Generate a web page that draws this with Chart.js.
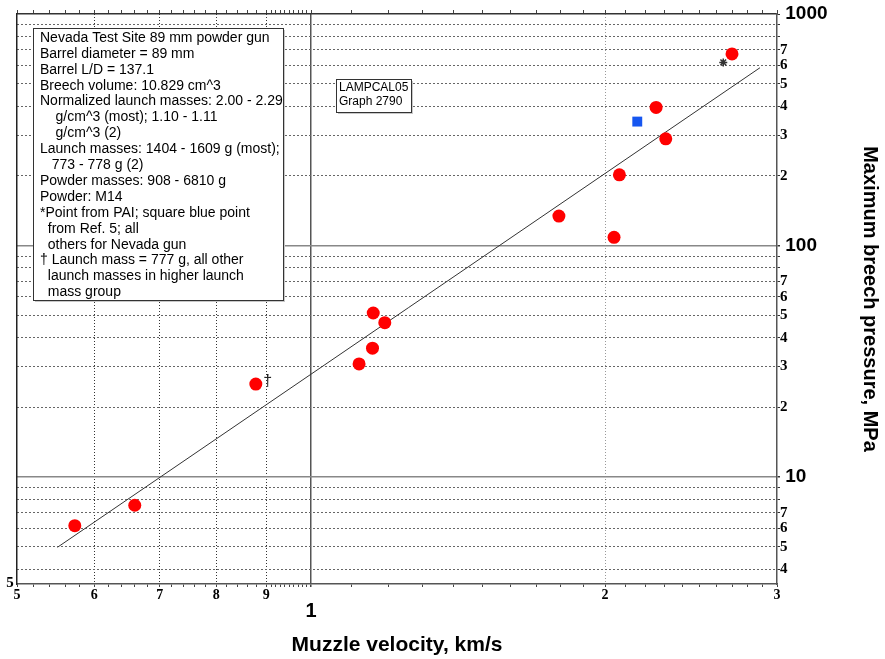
<!DOCTYPE html>
<html>
<head>
<meta charset="utf-8">
<script src="https://cdn.jsdelivr.net/npm/chart.js@4.4.1/dist/chart.umd.min.js"></script>
<style>
  html, body { margin: 0; padding: 0; background: #fff; }
  #wrap { width: 885px; height: 659px; }
</style>
</head>
<body>
<div id="wrap"><canvas id="chart" width="885" height="659"></canvas></div>
<script>
// Nevada gun shots (red dots)
const velocity = [0.573, 0.660, 0.878, 1.120, 1.156, 1.158, 1.190, 1.794, 2.043, 2.069, 2.256, 2.308, 2.698];
const pressure = [6.16, 7.55, 25.2, 30.8, 36.0, 51.1, 46.4, 134, 108.5, 202, 395, 289, 672];
// Ref. 5 point (blue square) and PAI point (star)
const refVelocity = [2.158];
const refPressure = [343];
const paiVelocity = [2.643];
const paiPressure = [618];
// fitted line end points
const fitVelocity = [0.550, 2.882];
const fitPressure = [4.97, 586];

const xMajorTicks = [0.5, 0.6, 0.7, 0.8, 0.9, 1, 2, 3];
const xMajorLabels = ["5", "6", "7", "8", "9", "1", "2", "3"];
const yMajorTicks = [4, 5, 6, 7, 10, 20, 30, 40, 50, 60, 70, 100, 200, 300, 400, 500, 600, 700, 1000];
const yMajorLabels = ["4", "5", "6", "7", "10", "2", "3", "4", "5", "6", "7", "100", "2", "3", "4", "5", "6", "7", "1000"];

const noteLines = [
  "Nevada Test Site 89 mm powder gun",
  "Barrel diameter = 89 mm",
  "Barrel L/D = 137.1",
  "Breech volume: 10.829 cm^3",
  "Normalized launch masses: 2.00 - 2.29",
  "    g/cm^3 (most); 1.10 - 1.11",
  "    g/cm^3 (2)",
  "Launch masses: 1404 - 1609 g (most);",
  "   773 - 778 g (2)",
  "Powder masses: 908 - 6810 g",
  "Powder: M14",
  "*Point from PAI; square blue point",
  "  from Ref. 5; all",
  "  others for Nevada gun",
  "\u2020 Launch mass = 777 g, all other",
  "  launch masses in higher launch",
  "  mass group"
];
const graphId = ["LAMPCAL05", "Graph 2790"];

// minor tick positions
const xTicks = [];
for (let i = 50; i <= 90; i += 2) xTicks.push(i / 100);
for (let i = 91; i <= 100; i++) xTicks.push(i / 100);
for (let i = 11; i <= 30; i++) xTicks.push(i / 10);
const yTicks = [];
[1, 10, 100].forEach(d => { for (let k = 1; k <= 9; k++) { const v = k * d; if (v >= 4 && v < 1000) yTicks.push(v); } });
yTicks.push(1000);

const near = (a, b) => Math.abs(a - b) < 1e-9 * Math.max(1, b);
const idxOf = (arr, v) => arr.findIndex(a => near(a, v));

const toPts = (xs, ys) => xs.map((x, i) => ({ x: x, y: ys[i] }));

const notesPlugin = {
  id: "notes",
  beforeDatasetsDraw(chart) {
    const ctx = chart.ctx;
    ctx.save();
    // info box
    ctx.fillStyle = "#c8c8c8";
    ctx.fillRect(35, 30, 250, 272);
    ctx.fillStyle = "#fff";
    ctx.fillRect(33, 28, 250, 272);
    ctx.strokeStyle = "#333";
    ctx.lineWidth = 1;
    ctx.strokeRect(33.5, 28.5, 250, 272);
    ctx.fillStyle = "#000";
    ctx.font = '14px "Liberation Sans", Arial, sans-serif';
    ctx.textBaseline = "middle";
    noteLines.forEach((t, i) => ctx.fillText(t, 40, 38 + i * 15.9));

    // graph id box
    ctx.fillStyle = "#c8c8c8";
    ctx.fillRect(338, 81, 75, 33);
    ctx.fillStyle = "#fff";
    ctx.fillRect(336, 79, 75, 33);
    ctx.strokeRect(336.5, 79.5, 75, 33);
    ctx.fillStyle = "#000";
    ctx.font = '12px "Liberation Sans", Arial, sans-serif';
    ctx.fillText(graphId[0], 339, 88);
    ctx.fillText(graphId[1], 339, 102);
    ctx.restore();
  },
  afterDatasetsDraw(chart) {
    const ctx = chart.ctx;
    const xs = chart.scales.x, ys = chart.scales.y;
    ctx.save();
    ctx.fillStyle = "#222";
    ctx.font = '16px "Liberation Sans", Arial, sans-serif';
    ctx.textAlign = "center";
    ctx.textBaseline = "middle";
    ctx.fillText("\u2020", xs.getPixelForValue(velocity[2]) + 12, ys.getPixelForValue(pressure[2]) - 2);
    // stray corner label
    ctx.font = 'bold 15px "Liberation Serif", serif';
    ctx.fillStyle = "#000";
    ctx.fillText("5", 10, 583);
    ctx.restore();
  }
};

const gridDash = [2, 2];
new Chart(document.getElementById("chart"), {
  type: "scatter",
  data: {
    datasets: [
      {
        label: "Nevada gun",
        data: toPts(velocity, pressure),
        backgroundColor: "#ff0000",
        borderWidth: 0,
        pointRadius: 6.5,
        order: 1
      },
      {
        label: "Ref. 5",
        data: toPts(refVelocity, refPressure),
        pointStyle: "rect",
        backgroundColor: "#1656f0",
        borderWidth: 0,
        pointRadius: 7,
        order: 1
      },
      {
        label: "PAI",
        data: toPts(paiVelocity, paiPressure),
        pointStyle: "star",
        backgroundColor: "#333",
        borderColor: "#333",
        borderWidth: 1.5,
        pointRadius: 4,
        order: 1
      },
      {
        label: "Fit",
        type: "line",
        data: toPts(fitVelocity, fitPressure),
        borderColor: "#333",
        borderWidth: 1,
        pointRadius: 0,
        fill: false,
        order: 2
      }
    ]
  },
  options: {
    responsive: false,
    animation: false,
    layout: { padding: 0 },
    plugins: {
      legend: { display: false },
      tooltip: { enabled: false }
    },
    scales: {
      x: {
        type: "logarithmic",
        position: "bottom",
        min: 0.5,
        max: 3,
        afterBuildTicks: s => { s.ticks = xTicks.map(v => ({ value: v })); },
        afterFit: s => { s.height = 75; },
        ticks: {
          autoSkip: false,
          maxRotation: 0,
          padding: 0,
          color: "#000",
          callback: v => {
            const i = idxOf(xMajorTicks, v);
            if (i < 0) return "";
            return near(v, 1) ? ["", xMajorLabels[i]] : xMajorLabels[i];
          },
          font: c => (c.tick && near(c.tick.value, 1))
            ? { family: '"Liberation Sans", Arial, sans-serif', size: 20, weight: "bold", lineHeight: 0.8 }
            : { family: '"Liberation Serif", serif', size: 14, weight: "bold", lineHeight: 1.2 }
        },
        grid: {
          drawTicks: true,
          tickLength: 3,
          tickColor: "#444",
          color: c => {
            if (!c.tick) return "rgba(0,0,0,0)";
            const v = c.tick.value;
            if (near(v, 1)) return "#555";
            if ([0.6, 0.7, 0.8, 0.9].some(a => near(a, v))) return "#333";
            if (near(v, 2)) return "#999";
            return "rgba(0,0,0,0)";
          },
          lineWidth: c => (c.tick && near(c.tick.value, 1)) ? 1.5 : 1
        },
        border: {
          display: true,
          color: "#555",
          width: 1.5,
          dash: c => (c.tick && near(c.tick.value, 1)) ? [] : [1, 2]
        },
        title: {
          display: true,
          text: "Muzzle velocity, km/s",
          color: "#000",
          font: { family: '"Liberation Sans", Arial, sans-serif', size: 21, weight: "bold" },
          padding: { top: 0, bottom: 1 }
        }
      },
      x2: {
        type: "logarithmic",
        position: "top",
        min: 0.5,
        max: 3,
        afterBuildTicks: s => { s.ticks = xTicks.map(v => ({ value: v })); },
        afterFit: s => { s.height = 14; },
        ticks: { display: false },
        grid: { drawOnChartArea: false, drawTicks: true, tickLength: 4, tickColor: "#444" },
        border: { display: true, color: "#333", width: 1.5 }
      },
      y: {
        type: "logarithmic",
        position: "right",
        min: 3.45,
        max: 1000,
        afterBuildTicks: s => { s.ticks = yTicks.map(v => ({ value: v })); },
        afterFit: s => { s.width = 108; },
        ticks: {
          autoSkip: false,
          padding: 0,
          color: "#000",
          callback: v => {
            const i = idxOf(yMajorTicks, v);
            if (i < 0) return "";
            return [10, 100, 1000].some(a => near(a, v)) ? " " + yMajorLabels[i] : yMajorLabels[i];
          },
          font: c => (c.tick && [10, 100, 1000].some(a => near(a, c.tick.value)))
            ? { family: '"Liberation Sans", Arial, sans-serif', size: 19, weight: "bold" }
            : { family: '"Liberation Serif", serif', size: 15, weight: "bold" }
        },
        grid: {
          drawTicks: true,
          tickLength: 3,
          tickColor: "#333",
          color: c => {
            if (!c.tick) return "rgba(0,0,0,0)";
            const v = c.tick.value;
            if (near(v, 10) || near(v, 100)) return "#888";
            if (near(v, 1000)) return "rgba(0,0,0,0)";
            return "#666";
          },
          lineWidth: c => (c.tick && (near(c.tick.value, 10) || near(c.tick.value, 100))) ? 1.5 : 1
        },
        border: {
          display: true,
          color: "#555",
          width: 1.5,
          dash: c => (c.tick && (near(c.tick.value, 10) || near(c.tick.value, 100))) ? [] : gridDash
        },
        title: {
          display: true,
          text: "Maximum breech pressure, MPa",
          color: "#000",
          font: { family: '"Liberation Sans", Arial, sans-serif', size: 20, weight: "bold" },
          padding: { top: 3, bottom: 0 }
        }
      },
      y2: {
        type: "logarithmic",
        position: "left",
        min: 3.45,
        max: 1000,
        afterFit: s => { s.width = 17; },
        ticks: { display: false },
        grid: { drawOnChartArea: false, drawTicks: false },
        border: { display: true, color: "#222", width: 1.5 }
      }
    }
  },
  plugins: [notesPlugin]
});
</script>
</body>
</html>
